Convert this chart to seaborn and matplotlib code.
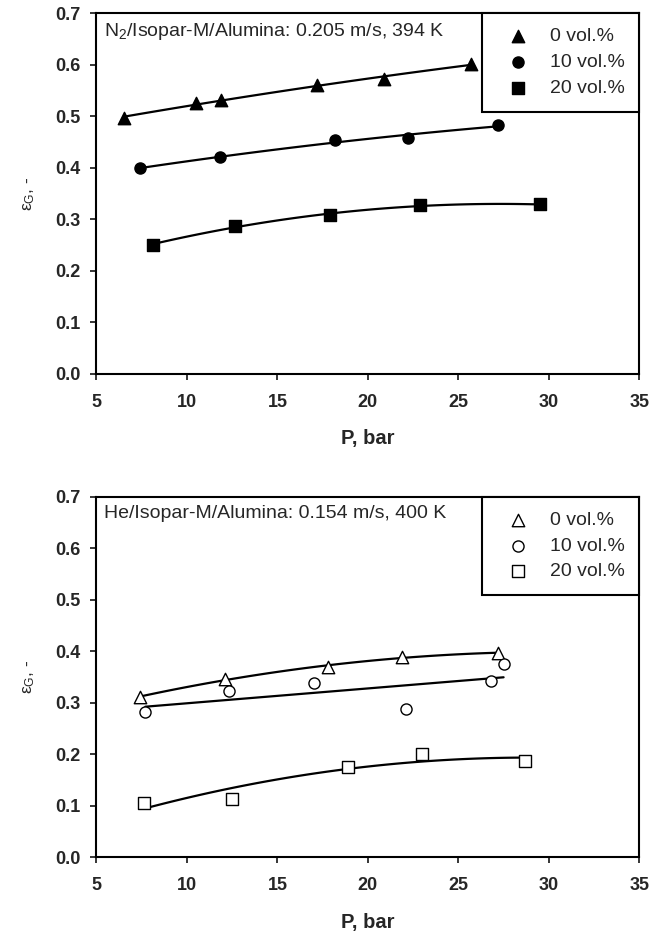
import numpy as np
import seaborn as sns
import matplotlib
matplotlib.use("Agg")
import matplotlib.pyplot as plt

# top panel: N2/Isopar-M/Alumina
p_n2_0 = [6.5, 10.5, 11.9, 17.2, 20.9, 25.7]
eg_n2_0 = [0.497, 0.526, 0.531, 0.560, 0.573, 0.602]
p_n2_10 = [7.4, 11.8, 18.2, 22.2, 27.2]
eg_n2_10 = [0.399, 0.421, 0.455, 0.457, 0.483]
p_n2_20 = [8.15, 12.65, 17.9, 22.9, 29.5]
eg_n2_20 = [0.251, 0.288, 0.308, 0.327, 0.329]

# bottom panel: He/Isopar-M/Alumina
p_he_0 = [7.4, 12.1, 17.8, 21.9, 27.2]
eg_he_0 = [0.311, 0.347, 0.369, 0.389, 0.397]
p_he_10 = [7.7, 12.3, 17.0, 22.1, 26.8, 27.5]
eg_he_10 = [0.282, 0.323, 0.338, 0.287, 0.343, 0.375]
p_he_20 = [7.6, 12.5, 18.9, 23.0, 28.7]
eg_he_20 = [0.105, 0.113, 0.176, 0.200, 0.186]

labels = ["0 vol.%", "10 vol.%", "20 vol.%"]
markers = ["^", "o", "s"]
sizes = [80, 64, 64]

sns.set_style("ticks")
plt.rcParams["font.family"] = ["Liberation Sans", "DejaVu Sans"]
plt.rcParams["mathtext.fontset"] = "custom"
plt.rcParams["mathtext.rm"] = "Liberation Sans"
plt.rcParams["mathtext.it"] = "Liberation Sans:italic"
plt.rcParams["axes.linewidth"] = 1.5
plt.rcParams["xtick.major.width"] = 1.3
plt.rcParams["ytick.major.width"] = 1.3
plt.rcParams["xtick.major.size"] = 4.5
plt.rcParams["ytick.major.size"] = 4.5

fig = plt.figure(figsize=(6.64, 9.34), dpi=100)
ax1 = fig.add_axes([0.1453, 0.5996, 0.8175, 0.3862])
ax2 = fig.add_axes([0.1453, 0.0821, 0.8175, 0.3861])


def panel(ax, series, filled, orders, title):
    for (x, y), m, lab, order, sz in zip(series, markers, labels, orders, sizes):
        sk = {"s": sz, "alpha": 1, "zorder": 3, "edgecolor": "black", "linewidths": 1}
        if not filled:
            sk["facecolor"] = "white"
        sns.regplot(x=np.array(x), y=np.array(y), ax=ax, order=order, ci=None,
                    color="black", marker=m, label=lab, scatter_kws=sk,
                    line_kws={"linewidth": 1.6, "zorder": 2})
    ax.set_xlim(5, 35)
    ax.set_ylim(0, 0.7)
    ax.set_xticks(range(5, 36, 5))
    ax.set_yticks(np.arange(0, 0.71, 0.1))
    ax.set_yticklabels([f"{v:.1f}" for v in np.arange(0, 0.71, 0.1)])
    ax.tick_params(axis="x", pad=10)
    ax.tick_params(axis="y", pad=7)
    for t in ax.get_xticklabels() + ax.get_yticklabels():
        t.set_fontweight("bold")
        t.set_fontsize(13)
    ax.set_xlabel("P, bar", fontsize=14.5, fontweight="bold", labelpad=13)
    ax.set_ylabel("ε$_{\\rm G}$, -", fontsize=12.5, labelpad=13)
    for s in ax.spines.values():
        s.set_color("black")
    ax.text(0.013, 0.978, title, transform=ax.transAxes, ha="left", va="top", fontsize=14)
    leg = ax.legend(loc="upper right", borderaxespad=0, fancybox=False, framealpha=1,
                    edgecolor="black", fontsize=14, handletextpad=0.55,
                    borderpad=0.75, labelspacing=0.42, handlelength=2.2, markerscale=1.0)
    leg.get_frame().set_linewidth(1.5)


panel(ax1, [(p_n2_0, eg_n2_0), (p_n2_10, eg_n2_10), (p_n2_20, eg_n2_20)], True,
      [2, 2, 2], "N$_2$/Isopar-M/Alumina: 0.205 m/s, 394 K")
panel(ax2, [(p_he_0, eg_he_0), (p_he_10, eg_he_10), (p_he_20, eg_he_20)], False,
      [2, 1, 2], "He/Isopar-M/Alumina: 0.154 m/s, 400 K")

fig.savefig("out.png", dpi=100)
